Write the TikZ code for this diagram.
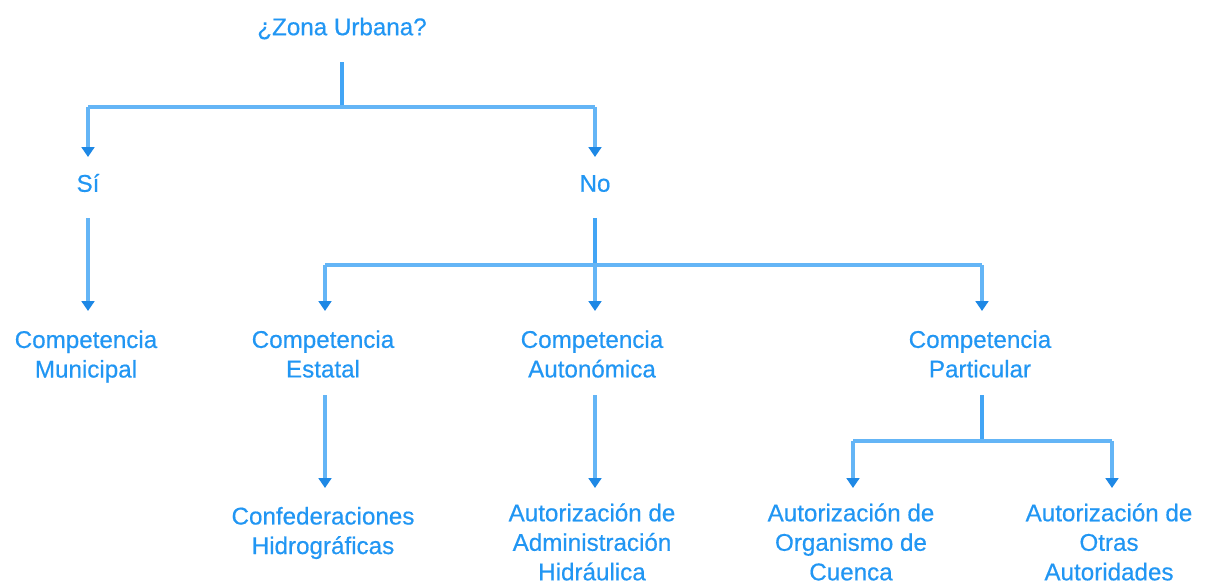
\documentclass[tikz,border=0pt]{standalone}
\usepackage{fontspec}
\setmainfont{Liberation Sans}
\newfontfamily\lblfont{Liberation Sans}[FakeBold=0.5]
\usetikzlibrary{arrows.meta}
\definecolor{txtblue}{HTML}{2196F3}
\definecolor{lnblue}{HTML}{64B5F6}
\definecolor{stemblue}{HTML}{42A5F5}
\definecolor{tipblue}{HTML}{1E88E5}
\tikzset{
	lbl/.style={text=txtblue,align=center,inner sep=0pt,
		font=\lblfont\fontsize{17.2}{21}\selectfont},
	branch/.style={draw=lnblue,line width=2.3pt},
	stem/.style={draw=stemblue,line width=2.6pt},
	arr/.style={draw=lnblue,line width=2.3pt,-{Triangle[width=9pt,length=7pt,fill=tipblue,color=tipblue]}},
}
\begin{document}
\begin{tikzpicture}[x=0.025cm,y=-0.025cm]
	\useasboundingbox (0,0) rectangle (1205,587);
	\node[lbl] (zona) at (342,28.5) {¿Zona Urbana?};
	\node[lbl] (si) at (88,183) {Sí};
	\node[lbl] (no) at (595,183.5) {No};
	\node[lbl] (mun) at (86,356.5) {Competencia\\Municipal};
	\node[lbl] (est) at (323,354) {Competencia\\Estatal};
	\node[lbl] (aut) at (592,354) {Competencia\\Autonómica};
	\node[lbl] (par) at (980,354) {Competencia\\Particular};
	\node[lbl] (conf) at (323,533) {Confederaciones\\Hidrográficas};
	\node[lbl] (adm) at (592,542) {Autorización de\\Administración\\Hidráulica};
	\node[lbl] (org) at (851,542) {Autorización de\\Organismo de\\Cuenca};
	\node[lbl] (otr) at (1109,542) {Autorización de\\Otras\\Autoridades};
	
	\coordinate (j1) at (342,107);
	\coordinate (j2) at (595,265);
	\coordinate (j3) at (982,441);
	
	\draw[stem] (342,62) -- (j1);
	\draw[branch] (j1) -| (88,107);
	\draw[arr] (88,107) -- (88,157);
	\draw[branch] (j1) -| (595,107);
	\draw[arr] (595,107) -- (595,157);
	\draw[arr] (88,218) -- (88,311);
	\draw[stem] (595,218) -- (j2);
	\draw[branch] (j2) -| (325,265);
	\draw[branch] (j2) -| (982,265);
	\draw[arr] (325,265) -- (325,311);
	\draw[arr] (j2) -- (595,311);
	\draw[arr] (982,265) -- (982,311);
	\draw[arr] (325,395) -- (325,488);
	\draw[arr] (595,395) -- (595,488);
	\draw[stem] (982,395) -- (j3);
	\draw[branch] (j3) -| (853,441);
	\draw[branch] (j3) -| (1112,441);
	\draw[arr] (853,441) -- (853,488);
	\draw[arr] (1112,441) -- (1112,488);
\end{tikzpicture}
\end{document}
